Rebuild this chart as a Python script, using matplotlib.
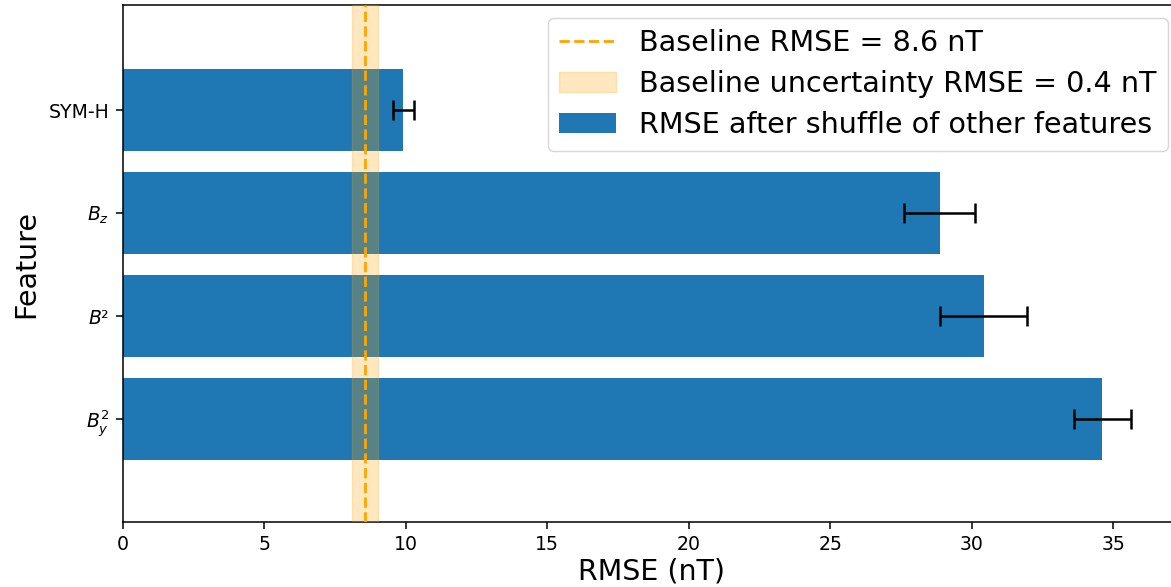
import matplotlib
matplotlib.use("Agg")
import matplotlib.pyplot as plt
import numpy as np

# data (bottom to top)
features = [r"$B_y^2$", r"$B²$", r"$B_z$", "SYM-H"]
rmse_shuffled = [34.62, 30.42, 28.87, 9.92]
rmse_err = [1.02, 1.55, 1.25, 0.37]

baseline_rmse = 8.57
baseline_unc = 0.46
baseline_label = "Baseline RMSE = 8.6 nT"
unc_label = "Baseline uncertainty RMSE = 0.4 nT"
bars_label = "RMSE after shuffle of other features"

fig = plt.figure(figsize=(11.71, 5.87), dpi=100)
ax = fig.add_axes([0.1048, 0.1107, 0.9038, 0.8808])

y = np.arange(len(features))
ax.barh(y, rmse_shuffled, height=0.8, color="#1f77b4", label=bars_label)
ax.errorbar(rmse_shuffled, y, xerr=rmse_err, fmt="none", ecolor="black",
            elinewidth=1.8, capsize=7, capthick=1.8)

ax.axvline(baseline_rmse, color="orange", linestyle="--", linewidth=2,
           label=baseline_label, zorder=4)
ax.axvspan(baseline_rmse - baseline_unc, baseline_rmse + baseline_unc,
           color="orange", alpha=0.25, label=unc_label, zorder=3)

ax.set_yticks(y)
ax.set_yticklabels(features)
ax.tick_params(axis="both", labelsize=13.6, length=4.8, width=1.1, pad=4.8)
for s in ax.spines.values():
    s.set_linewidth(1.1)
ax.set_xlim(0, 37.4)
ax.set_ylim(-1.0, 4.02)
ax.set_xlabel("RMSE (nT)", fontsize=20.5, labelpad=2)
ax.set_ylabel("Feature", fontsize=20.5, labelpad=6)

handles, labels = ax.get_legend_handles_labels()
order = [labels.index(baseline_label), labels.index(unc_label), labels.index(bars_label)]
ax.legend([handles[i] for i in order], [labels[i] for i in order],
          loc="upper right", fontsize=20.6, labelspacing=0.45,
          borderaxespad=0.45)

fig.savefig("out.png", dpi=100)
